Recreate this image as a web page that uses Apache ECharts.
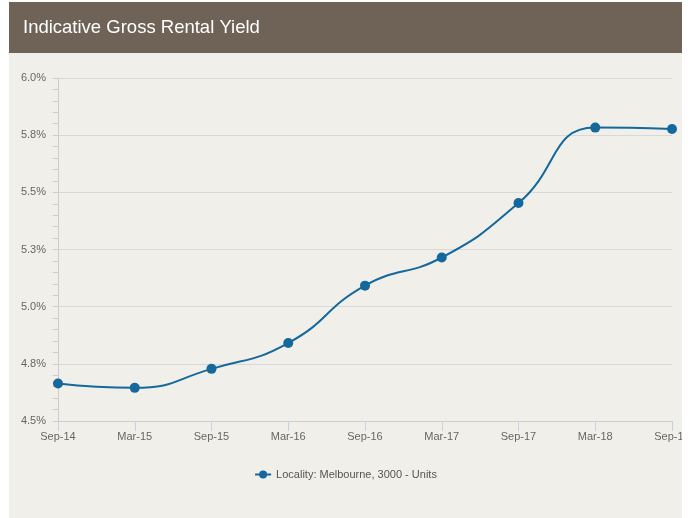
<!DOCTYPE html>
<html>
<head>
<meta charset="utf-8">
<script src="https://cdn.jsdelivr.net/npm/echarts@6/dist/echarts.min.js"></script>
<style>
  html, body { margin: 0; padding: 0; background: #fff; }
  #chart { position: absolute; left: 9px; top: 2px; width: 673px; height: 516px; background: #f0efea; }
</style>
</head>
<body>
<div id="chart"></div>
<script>
// 数据
var categories = ["Sep-14", "Mar-15", "Sep-15", "Mar-16", "Sep-16", "Mar-17", "Sep-17", "Mar-18", "Sep-18"];
var yieldValues = [4.664, 4.645, 4.728, 4.841, 5.092, 5.215, 5.453, 5.783, 5.777];
var seriesName = "Locality: Melbourne, 3000 - Units";
var titleText = "Indicative Gross Rental Yield";

var chart = echarts.init(document.getElementById("chart"));
chart.setOption({
  animation: false,
  backgroundColor: "#f0efea",
  graphic: [
    {
      type: "rect",
      left: 0, top: 0,
      shape: { width: 673, height: 51 },
      style: { fill: "#6f6358" },
      z: 0
    },
    {
      type: "text",
      left: 14, top: 16,
      style: {
        text: titleText,
        fill: "#fff",
        font: "18.5px 'Liberation Sans', Arial, sans-serif"
      },
      z: 1
    }
  ],
  grid: { left: 49, right: 10, top: 76, height: 343, outerBoundsMode: "none" },
  legend: {
    bottom: 33,
    left: "center",
    itemWidth: 16,
    itemHeight: 10,
    textStyle: { color: "#555", fontSize: 11, fontFamily: "Liberation Sans, Arial, sans-serif" },
    data: [seriesName]
  },
  xAxis: {
    type: "category",
    boundaryGap: false,
    data: categories,
    axisLine: { lineStyle: { color: "#cccccc", width: 1 } },
    axisTick: { show: true, length: 10, lineStyle: { color: "#c5d2e3" } },
    axisLabel: { color: "#666", fontSize: 11, margin: 10, fontFamily: "Liberation Sans, Arial, sans-serif", interval: 0 }
  },
  yAxis: {
    type: "value",
    min: 4.5,
    max: 6.0,
    interval: 0.25,
    axisLine: { show: true, lineStyle: { color: "#cccccc" } },
    axisTick: { show: true, length: 5, lineStyle: { color: "#cccccc" } },
    minorTick: { show: true, splitNumber: 5, length: 5, lineStyle: { color: "#cccccc" } },
    splitLine: { lineStyle: { color: "#d8d8d8" } },
    axisLabel: {
      color: "#666", fontSize: 11, margin: 12,
      fontFamily: "Liberation Sans, Arial, sans-serif",
      formatter: function (v) { return v.toFixed(1) + "%"; }
    }
  },
  series: [{
    name: seriesName,
    type: "line",
    smooth: true,
    data: yieldValues,
    symbol: "circle",
    symbolSize: 10,
    lineStyle: { color: "#14689c", width: 2 },
    itemStyle: { color: "#14689c" }
  }]
});
</script>
</body>
</html>
